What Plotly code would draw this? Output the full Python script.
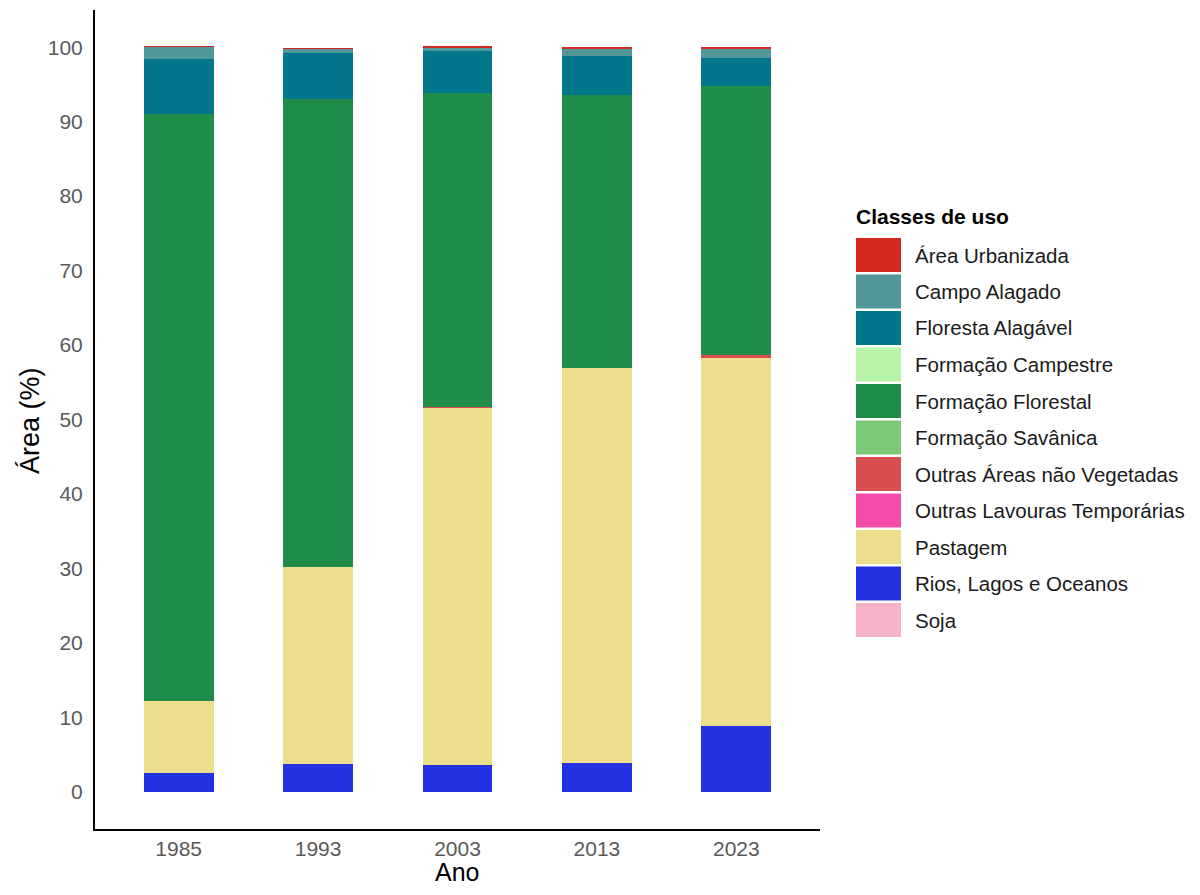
import plotly.graph_objects as go

years = ["1985", "1993", "2003", "2013", "2023"]

classes = [
    "Área Urbanizada", "Campo Alagado", "Floresta Alagável", "Formação Campestre",
    "Formação Florestal", "Formação Savânica", "Outras Áreas não Vegetadas",
    "Outras Lavouras Temporárias", "Pastagem", "Rios, Lagos e Oceanos", "Soja",
]
colors = [
    "#d4271e", "#519799", "#02768a", "#b8f5a8",
    "#1f8d49", "#7dc975", "#db4d4f",
    "#f54ca9", "#edde8e", "#2532e4", "#f5b3c8",
]

area_urbanizada = [0.05, 0.02, 0.3, 0.3, 0.35]
campo_alagado = [1.7, 0.6, 0.4, 1.0, 1.1]
floresta_alagavel = [7.35, 6.1, 5.55, 5.2, 3.8]
formacao_campestre = [0.0, 0.0, 0.0, 0.0, 0.0]
formacao_florestal = [78.9, 62.9, 42.25, 36.6, 36.2]
formacao_savanica = [0.0, 0.0, 0.0, 0.0, 0.0]
outras_areas = [0.0, 0.0, 0.05, 0.05, 0.3]
outras_lavouras = [0.0, 0.0, 0.0, 0.0, 0.0]
pastagem = [9.6, 26.4, 47.95, 53.1, 49.5]
rios = [2.54, 3.78, 3.65, 3.83, 8.82]
soja = [0.0, 0.0, 0.0, 0.0, 0.0]

values = [
    area_urbanizada, campo_alagado, floresta_alagavel, formacao_campestre,
    formacao_florestal, formacao_savanica, outras_areas, outras_lavouras,
    pastagem, rios, soja,
]

OFF = 8  # page body margin
W, H = 1200 - 2 * OFF, 895 - 2 * OFF
# desired plot area in window pixels: x 95..820, y 10..829
ML = 95 - OFF
MT = 10 - OFF
MR = W - (820 - OFF)
MB = H - (829 - OFF)
FONT = "Liberation Sans, Arial, sans-serif"

fig = go.Figure()
# ggplot-style stacking: first class on top, so add in reverse
for name, col, vals in reversed(list(zip(classes, colors, values))):
    fig.add_trace(go.Bar(
        x=years, y=vals, name=name, marker=dict(color=col, line=dict(width=0)),
        width=0.5, showlegend=False,
    ))

# window pixel -> paper coordinates
def px_x(p):
    return (p - OFF - ML) / (W - ML - MR)

def px_y(p):
    return (H - MB - (p - OFF)) / (H - MT - MB)

shapes = []
annotations = [
    dict(text="Ano", xref="paper", yref="paper", x=px_x(457), y=px_y(887),
         xanchor="center", yanchor="bottom", showarrow=False, borderpad=0,
         font=dict(family=FONT, size=25, color="#000000")),
    dict(text="Área (%)", xref="paper", yref="paper", x=px_x(30), y=px_y(421),
         xanchor="center", yanchor="middle", showarrow=False, textangle=-90,
         font=dict(family=FONT, size=27, color="#000000")),
    dict(text="<b>Classes de uso</b>", xref="paper", yref="paper",
         x=px_x(854), y=px_y(216), xanchor="left", yanchor="middle",
         showarrow=False, font=dict(family=FONT, size=21, color="#000000")),
]
top0, pitch, sw_h = 238, 36.5, 34
for i, (name, col) in enumerate(zip(classes, colors)):
    t = top0 + i * pitch
    shapes.append(dict(
        type="rect", xref="paper", yref="paper",
        x0=px_x(856), x1=px_x(901), y0=px_y(t + sw_h), y1=px_y(t),
        fillcolor=col, line=dict(width=0),
    ))
    annotations.append(dict(
        text=name, xref="paper", yref="paper",
        x=px_x(913), y=px_y(t + sw_h / 2), xanchor="left", yanchor="middle",
        showarrow=False, font=dict(family=FONT, size=20.5, color="#1a1a1a"),
    ))

fig.update_layout(
    width=W, height=H,
    margin=dict(l=ML, r=MR, t=MT, b=MB, autoexpand=False),
    paper_bgcolor="white", plot_bgcolor="white",
    barmode="stack", font=dict(family=FONT),
    shapes=shapes, annotations=annotations,
    xaxis=dict(
        type="category", range=[-0.6, 4.6], showgrid=False, zeroline=False,
        showline=True, linecolor="black", linewidth=2, automargin=False,
        ticks="", tickfont=dict(family=FONT, size=21, color="#595959"),
    ),
    yaxis=dict(
        range=[-5, 105], showgrid=False, zeroline=False,
        tickvals=[0, 10, 20, 30, 40, 50, 60, 70, 80, 90, 100],
        showline=True, linecolor="black", linewidth=2, automargin=False,
        ticks="outside", ticklen=6, tickcolor="rgba(0,0,0,0)",
        tickfont=dict(family=FONT, size=21, color="#595959"),
    ),
)

fig.write_html("out.html")
